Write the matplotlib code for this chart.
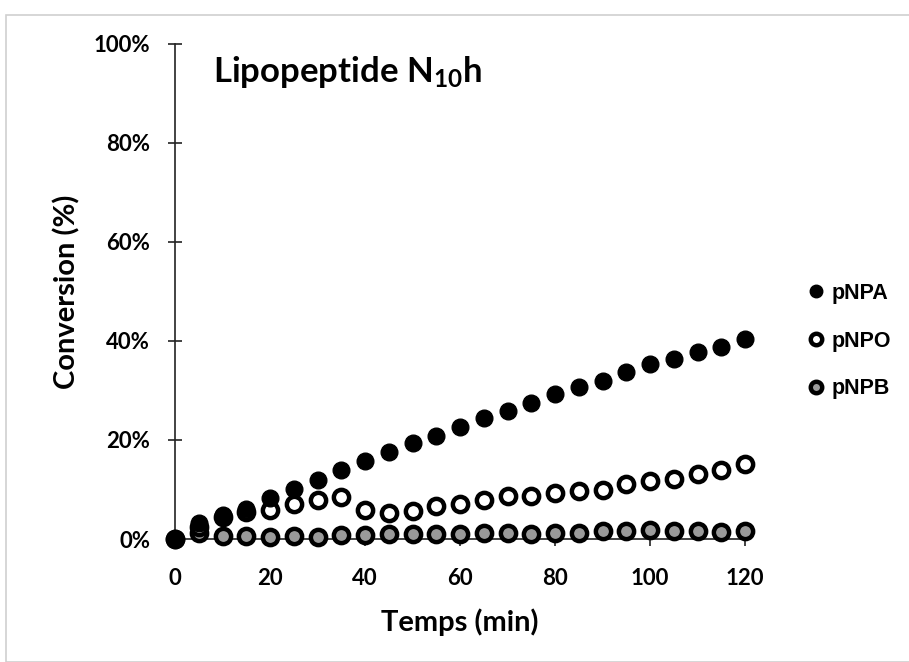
import matplotlib
matplotlib.use("Agg")
import matplotlib.pyplot as plt
from matplotlib.ticker import FuncFormatter
from matplotlib.patches import Rectangle

plt.rcParams['font.family'] = ['Lato', 'DejaVu Sans']
plt.rcParams['mathtext.fontset'] = 'custom'
plt.rcParams['mathtext.rm'] = 'Lato:bold'
plt.rcParams['mathtext.it'] = 'Lato:bold'
plt.rcParams['mathtext.bf'] = 'Lato:bold'

time_min = [0, 5, 10, 15, 20, 25, 30, 35, 40, 45, 50, 55, 60,
            65, 70, 75, 80, 85, 90, 95, 100, 105, 110, 115, 120]
pNPA = [0.0, 3.3, 4.8, 6.0, 8.2, 10.2, 11.9, 13.9, 15.7, 17.5, 19.3, 20.9, 22.7,
        24.5, 25.8, 27.4, 29.2, 30.8, 32.0, 33.8, 35.4, 36.4, 37.8, 38.8, 40.4]
pNPO = [0.0, 2.4, 4.5, 5.5, 5.8, 7.0, 7.8, 8.4, 5.8, 5.2, 5.6, 6.6, 7.1,
        7.8, 8.6, 8.7, 9.2, 9.7, 9.9, 11.1, 11.7, 12.2, 13.2, 13.9, 15.1]
pNPB = [0.0, 1.3, 0.7, 0.7, 0.5, 0.7, 0.4, 0.8, 0.8, 1.0, 1.0, 1.0, 1.0,
        1.3, 1.3, 1.0, 1.3, 1.3, 1.6, 1.6, 1.8, 1.6, 1.7, 1.4, 1.7]
series_names = ["pNPA", "pNPO", "pNPB"]
y_ticks = [0, 20, 40, 60, 80, 100]
x_ticks = [0, 20, 40, 60, 80, 100, 120]

W, H = 909, 662
fig = plt.figure(figsize=(W / 100, H / 100), dpi=100)
fig.patches.append(Rectangle((6 / W, 0), 1.2, (H - 15) / H, transform=fig.transFigure,
                             fill=False, edgecolor='#d0d0d0', linewidth=1.2))
ax = fig.add_axes([175 / W, (H - 539) / H, 570 / W, 495 / H])

ax.plot(time_min, pNPB, 'o', ms=11, mfc='#9a9a9a', mec='black', mew=3.2,
        label=series_names[2], clip_on=False, zorder=3)
ax.plot(time_min, pNPO, 'o', ms=11, mfc='white', mec='black', mew=3.2,
        label=series_names[1], clip_on=False, zorder=4)
ax.plot(time_min, pNPA, 'o', ms=12, mfc='black', mec='black', mew=1,
        label=series_names[0], clip_on=False, zorder=5)

ax.set_xlim(0, 120)
ax.set_ylim(0, 100)
ax.set_xticks(x_ticks)
ax.set_yticks(y_ticks)
ax.yaxis.set_major_formatter(FuncFormatter(lambda v, p: f"{int(v)}%"))
for s in ['top', 'right']:
    ax.spines[s].set_visible(False)
for s in ['left', 'bottom']:
    ax.spines[s].set_linewidth(1.2)
    ax.spines[s].set_color('#222222')
ax.tick_params(axis='both', direction='inout', length=10, width=1.2, color='#222222',
               labelsize=16)
ax.tick_params(axis='y', pad=13)
ax.tick_params(axis='x', pad=16)
for lab in ax.get_xticklabels() + ax.get_yticklabels():
    lab.set_fontweight('bold')

ax.set_xlabel("Temps (min)", fontsize=21, fontweight='bold', labelpad=14)
ax.set_ylabel("Conversion (%)", fontsize=21, fontweight='bold', labelpad=9)

fig.text(213 / W, (H - 82) / H, r"Lipopeptide N$_{10}$h", fontsize=25,
         fontweight='bold', ha='left', va='baseline')

h, l = ax.get_legend_handles_labels()
order = [2, 1, 0]
leg = ax.legend([h[i] for i in order], [l[i] for i in order],
                loc='center left', bbox_to_anchor=(790 / W, (H - 341) / H),
                bbox_transform=fig.transFigure, frameon=False, markerscale=0.75,
                handlelength=0.6, handletextpad=0.45, labelspacing=1.25,
                prop={'family': 'Liberation Sans', 'weight': 'bold', 'size': 15.5})

fig.savefig("out.png", dpi=100)
